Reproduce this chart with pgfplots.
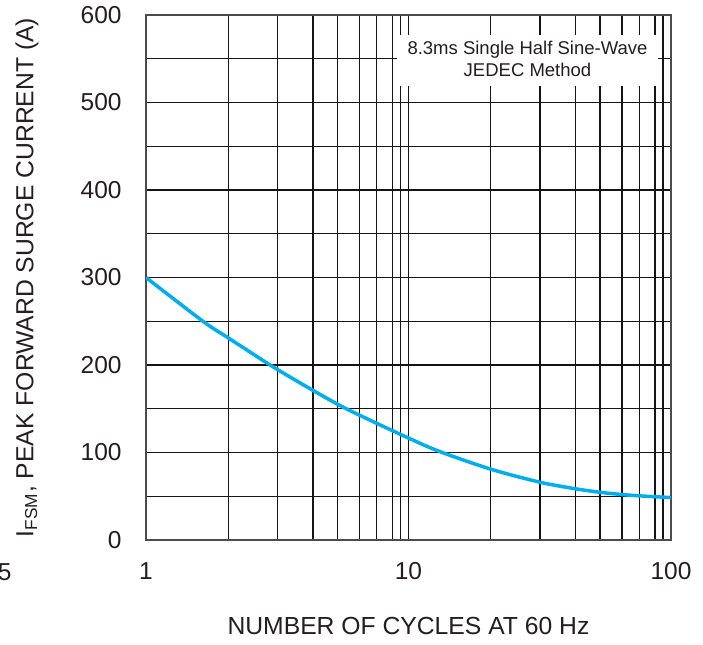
\documentclass[border=0pt]{standalone}
\usepackage{fontspec}
\setmainfont{Liberation Sans}
\usepackage{pgfplots}
\pgfplotsset{compat=1.18}
\definecolor{curve}{RGB}{0,174,239}
\definecolor{txt}{RGB}{35,31,32}
\definecolor{gridc}{RGB}{20,20,20}
\begin{document}
\begin{tikzpicture}
\begin{axis}[
  xmode=log, log basis x=10,
  scale only axis, width=262.5pt, height=262.5pt,
  xmin=1, xmax=100, ymin=0, ymax=600,
  xtick={1,10,100}, xticklabels={1,10,100},
  minor xtick={2.058,3.172,4.323,5.366,6.510,7.573,8.693,9.322,20.58,31.72,43.23,53.66,65.10,75.73,86.93,93.22},
  ytick={0,100,200,300,400,500,600}, yticklabels={0,100,200,300,400,500,600},
  minor ytick={50,150,250,350,450,550},
  grid=both,
  major grid style={draw=gridc, line width=0.65pt},
  minor grid style={draw=gridc, line width=0.65pt},
  major tick length=0pt, minor tick length=0pt,
  axis line style={draw=black!70, line width=0.8pt},
  tick label style={font=\fontsize{12.25}{14}\selectfont, text=txt},
  xticklabel style={inner sep=0pt, anchor=north, yshift=-11pt},
  yticklabel style={inner sep=0pt, anchor=east, xshift=-12pt},
  xlabel={NUMBER OF CYCLES AT 60 Hz},
  xlabel style={at={(axis description cs:0.5,-0.1467)}, anchor=north, inner sep=0pt, font=\fontsize{12.35}{14}\selectfont, text=txt},
  ylabel={I\textsubscript{FSM}, PEAK FORWARD SURGE CURRENT (A)},
  ylabel style={at={(axis description cs:-0.2495,0.5)}, rotate=0, anchor=north, inner sep=0pt, font=\fontsize{12.35}{14}\selectfont, text=txt},
]
\addplot[curve, line width=1.75pt, smooth] coordinates {
(1,300) (1.648,250) (2.058,231) (3.046,198) (4.327,171) (5.883,149) (10,116.5)
(13.18,101) (20.56,81) (31.70,66) (43.35,58.5) (53.78,54.5) (64.9,52) (75.5,50.5) (100,48.5)
};
\fill[white] (axis cs:9.03,519) rectangle (axis cs:89.1,577);
\node[font=\fontsize{9.25}{10.85}\selectfont, text=txt, align=center, inner sep=0pt] at (axis cs:28.4,549.6) {8.3ms Single Half Sine-Wave\\JEDEC Method};
\coordinate (SW) at (rel axis cs:0,0);
\end{axis}
\node[anchor=east, inner sep=0pt, font=\fontsize{12.25}{14}\selectfont, text=txt] at ([shift={(-67pt,-16pt)}]SW) {5};
\pgfresetboundingbox
\path[use as bounding box] ([shift={(-73pt,-52pt)}]SW) rectangle ([shift={(278.5pt,270pt)}]SW);
\end{tikzpicture}
\end{document}
